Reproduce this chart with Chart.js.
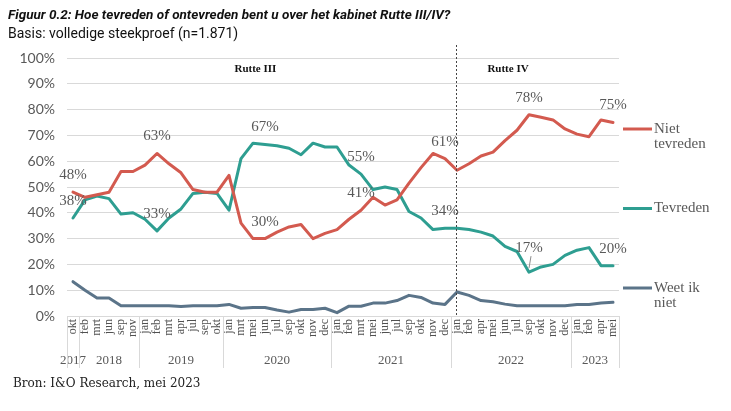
<!DOCTYPE html>
<html>
<head>
<meta charset="utf-8">
<script src="https://cdn.jsdelivr.net/npm/chart.js@4.4.0/dist/chart.umd.min.js"></script>
<style>
  body { margin: 0; background: #fff; }
  #wrap { position: relative; width: 731px; height: 411px; overflow: hidden; }
  #c { position: absolute; left: 0; top: 0; }
  .title { position: absolute; left: 8px; top: 6px; font: italic bold 13.5px Roboto; color: #111; white-space: nowrap; }
  .sub { position: absolute; left: 8px; top: 25px; font: 14px Roboto; color: #111; white-space: nowrap; }
  .source { position: absolute; left: 13px; top: 376px; font: 12px "DejaVu Serif"; color: #222; white-space: nowrap; }
</style>
</head>
<body>
<div id="wrap">
  <canvas id="c" width="731" height="411"></canvas>
  <div class="title">Figuur 0.2: Hoe tevreden of ontevreden bent u over het kabinet Rutte III/IV?</div>
  <div class="sub">Basis: volledige steekproef (n=1.871)</div>
  <div class="source">Bron: I&amp;O Research, mei 2023</div>
</div>
<script>
const months = [
  'okt',
  'feb', 'mrt', 'jun', 'sep', 'nov',
  'jan', 'feb', 'mrt', 'apr', 'jul', 'sep', 'okt',
  'jan', 'mrt', 'mei', 'jun', 'jul', 'sep', 'okt', 'nov', 'dec',
  'jan', 'feb', 'mrt', 'mei', 'jun', 'jul', 'sep', 'okt', 'nov', 'dec',
  'jan', 'feb', 'apr', 'mei', 'jun', 'jul', 'sep', 'okt', 'nov', 'dec',
  'jan', 'feb', 'apr', 'mei'
];
const yearLabels = ['2017', '2018', '2019', '2020', '2021', '2022', '2023'];
const yearCounts = [1, 5, 7, 9, 10, 10, 4];

const nietTevreden = [
  48, 46, 47, 48, 56, 56, 58.5, 63, 59, 55.5,
  49, 48, 48, 54.5, 36, 30, 30, 32.5, 34.5, 35.5,
  30, 32, 33.5, 37.5, 41, 46, 43, 45, 51.5, 57.5,
  63, 61, 56.5, 59, 62, 63.5, 68, 72, 78, 77,
  76, 72.5, 70.5, 69.5, 76, 75
];
const tevreden = [
  38, 45, 46.5, 45.5, 39.5, 40, 37.5, 33, 38, 41.5,
  47.5, 48, 47.5, 41, 61, 67, 66.5, 66, 65, 62.5,
  67, 65.5, 65.5, 58.5, 55, 49, 50, 49, 40.5, 38,
  33.5, 34, 34, 33.5, 32.5, 31, 27, 25, 17, 19,
  20, 23.5, 25.5, 26.5, 19.5, 19.5
];
const weetNiet = [
  13.3, 10, 7, 7, 4, 4, 4, 4, 4, 3.7,
  4, 4, 4, 4.5, 3, 3.3, 3.3, 2.3, 1.5, 2.5,
  2.5, 3, 1.3, 3.8, 3.8, 5, 5, 6, 8, 7.2,
  5, 4.5, 9.3, 8, 6, 5.5, 4.6, 4, 4, 4,
  4, 4, 4.5, 4.5, 5, 5.3
];
// points that carry a value label (same months for both series)
const labelIdx = [0, 7, 16, 24, 31, 38, 45];
const cabinets = ['Rutte III', 'Rutte IV'];
const cabinetSplit = 32; // jan 2022

const colors = ['#d35a4f', '#2e9e91', '#5b7489'];
const legendText = [['Niet', 'tevreden'], ['Tevreden'], ['Weet ik', 'niet']];

const serif = '"Liberation Serif", serif';

const extras = {
  id: 'extras',
  afterDatasetsDraw(chart) {
    const ctx = chart.ctx;
    const x = chart.scales.x;
    const area = chart.chartArea;
    const step = x.getPixelForValue(1) - x.getPixelForValue(0);

    // year groups + separators
    ctx.save();
    ctx.strokeStyle = '#d9d9d9';
    ctx.lineWidth = 1;
    ctx.fillStyle = '#595959';
    ctx.font = '13px ' + serif;
    ctx.textAlign = 'center';
    ctx.textBaseline = 'middle';
    let start = 0;
    const edge = i => Math.round(x.getPixelForValue(i) - step / 2) + 0.5;
    ctx.beginPath();
    ctx.moveTo(edge(0), area.bottom);
    ctx.lineTo(edge(0), area.bottom + 52);
    yearCounts.forEach((n, k) => {
      const end = start + n;
      ctx.moveTo(edge(end), area.bottom);
      ctx.lineTo(edge(end), area.bottom + 52);
      const mid = (x.getPixelForValue(start) + x.getPixelForValue(end - 1)) / 2;
      ctx.fillText(yearLabels[k], mid, area.bottom + 45);
      start = end;
    });
    ctx.stroke();

    // cabinet divider
    const dx = Math.round(x.getPixelForValue(cabinetSplit)) - 0.5;
    ctx.strokeStyle = '#444';
    ctx.setLineDash([2, 2]);
    ctx.beginPath();
    ctx.moveTo(dx, area.top - 13);
    ctx.lineTo(dx, area.bottom);
    ctx.stroke();
    ctx.setLineDash([]);

    ctx.fillStyle = '#111';
    ctx.font = 'bold 11px ' + serif;
    ctx.fillText(cabinets[0], x.getPixelForValue(15.2), area.top + 11);
    ctx.fillText(cabinets[1], x.getPixelForValue(36.25), area.top + 11);

    // value labels
    ctx.font = '15px ' + serif;
    ctx.fillStyle = '#595959';
    [0, 1].forEach(di => {
      const meta = chart.getDatasetMeta(di);
      labelIdx.forEach(i => {
        const pt = meta.data[i];
        const v = chart.data.datasets[di].data[i];
        let dy = 17;
        if (di === 1 && i === 38) {
          dy = 24;
          ctx.strokeStyle = '#8c8c8c';
          ctx.beginPath();
          ctx.moveTo(pt.x + 2, pt.y - 16);
          ctx.lineTo(pt.x, pt.y - 4);
          ctx.stroke();
        }
        ctx.fillText(Math.round(v) + '%', pt.x, pt.y - dy);
      });
    });

    // legend
    ctx.textAlign = 'left';
    ctx.font = '15px ' + serif;
    legendText.forEach((lines, k) => {
      const ly = area.top + 71 + k * 79.5;
      ctx.strokeStyle = colors[k];
      ctx.lineWidth = 3;
      ctx.beginPath();
      ctx.moveTo(area.right + 4, ly);
      ctx.lineTo(area.right + 33, ly);
      ctx.stroke();
      lines.forEach((t, j) => ctx.fillText(t, area.right + 35, ly + j * 15));
    });
    ctx.restore();
  }
};

Chart.defaults.font.family = serif;
Chart.defaults.color = '#595959';

new Chart(document.getElementById('c'), {
  type: 'line',
  data: {
    labels: months,
    datasets: [
      { label: 'Niet tevreden', data: nietTevreden, borderColor: colors[0] },
      { label: 'Tevreden', data: tevreden, borderColor: colors[1] },
      { label: 'Weet ik niet', data: weetNiet, borderColor: colors[2] }
    ]
  },
  options: {
    responsive: false,
    animation: false,
    devicePixelRatio: 1,
    layout: { padding: { left: 0, right: 112, top: 58, bottom: 35 } },
    elements: {
      line: { borderWidth: 3, tension: 0, borderCapStyle: 'round', borderJoinStyle: 'round' },
      point: { radius: 0 }
    },
    plugins: { legend: { display: false }, tooltip: { enabled: false } },
    scales: {
      x: {
        offset: true,
        grid: { display: false, drawTicks: false },
        border: { display: true, color: '#d9d9d9' },
        ticks: {
          autoSkip: false, maxRotation: 90, minRotation: 90, padding: 3,
          font: { size: 12, family: serif }, color: '#505050'
        },
        afterFit(s) { s.height = 60; }
      },
      y: {
        min: 0, max: 100,
        grid: { color: '#d9d9d9', drawTicks: false },
        border: { display: false },
        ticks: {
          stepSize: 10, padding: 12,
          font: { size: 14, family: 'Lato' }, color: '#595959',
          callback: v => v + '%'
        },
        afterFit(s) { s.width = 67; }
      }
    }
  },
  plugins: [extras]
});
</script>
</body>
</html>
